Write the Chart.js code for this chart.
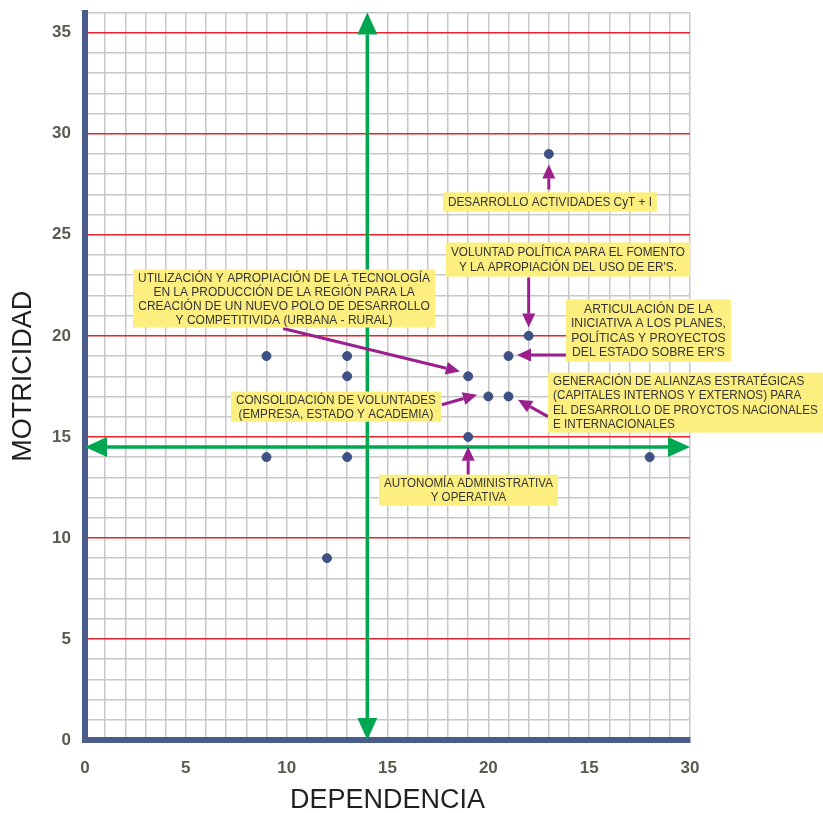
<!DOCTYPE html>
<html>
<head>
<meta charset="utf-8">
<script src="https://cdn.jsdelivr.net/npm/chart.js@4.4.1/dist/chart.umd.min.js"></script>
<style>
html,body{margin:0;padding:0;background:#fff;}
#wrap{width:823px;height:813px;position:relative;}
</style>
</head>
<body>
<div id="wrap"><canvas id="c"></canvas></div>
<script>
// ---- data ----
const xValues = [9, 13, 13, 19, 20, 21, 21, 22, 23, 19, 9, 13, 12, 28];
const yValues = [19, 19, 18, 18, 17, 17, 19, 20, 29, 15, 14, 14, 9, 14];
const xTickLabels = ['0', '5', '10', '15', '20', '15', '30'];
const yTickLabels = ['0', '5', '10', '15', '20', '25', '30', '35'];
const xTitle = 'DEPENDENCIA';
const yTitle = 'MOTRICIDAD';
const dividerX = 14;
const dividerY = 14.5;

const annotationTexts = [
  ['DESARROLLO ACTIVIDADES CyT + I'],
  ['VOLUNTAD POLÍTICA PARA EL FOMENTO', "Y LA APROPIACIÓN DEL USO DE ER'S."],
  ['ARTICULACIÓN DE LA', 'INICIATIVA A LOS PLANES,', 'POLÍTICAS Y PROYECTOS', "DEL ESTADO SOBRE ER'S"],
  ['GENERACIÓN DE ALIANZAS ESTRATÉGICAS', '(CAPITALES INTERNOS Y EXTERNOS) PARA', 'EL DESARROLLO DE PROYCTOS NACIONALES', 'E INTERNACIONALES'],
  ['UTILIZACIÓN Y APROPIACIÓN DE LA TECNOLOGÍA', 'EN LA PRODUCCIÓN DE LA REGIÓN PARA LA', 'CREACIÓN DE UN NUEVO POLO DE DESARROLLO', 'Y COMPETITIVIDA (URBANA - RURAL)'],
  ['CONSOLIDACIÓN DE VOLUNTADES', '(EMPRESA, ESTADO Y ACADEMIA)'],
  ['AUTONOMÍA ADMINISTRATIVA', 'Y OPERATIVA']
];
// layout of callouts, in axis units: box [x1, yTop, x2, yBottom], arrow [fromX, fromY, toX, toY]
const annotationLayout = [
  {box: [17.75, 27.10, 28.36, 26.15], align: 'center', arrow: [23, 27.24, 23, 28.48]},
  {box: [17.90, 24.62, 30.0, 22.93], align: 'center', arrow: [22, 22.88, 22, 20.41]},
  {box: [23.85, 21.80, 32.03, 18.72], align: 'center', arrow: [23.90, 19.05, 21.42, 19.05]},
  {box: [22.96, 18.18, 36.59, 15.21], align: 'left', arrow: [22.96, 16.0, 21.47, 16.84]},
  {box: [2.38, 23.28, 17.36, 20.41], align: 'center', arrow: [9.82, 20.36, 18.59, 18.23]},
  {box: [7.24, 17.24, 17.65, 15.75], align: 'center', arrow: [17.70, 16.59, 19.44, 17.09]},
  {box: [14.58, 13.13, 23.45, 11.59], align: 'center', arrow: [19, 13.13, 19, 14.51]}
];

const GREEN = '#00a650';
const PURPLE = '#9b1f8c';
const YELLOW = '#fcef80';
const AXIS_BLUE = '#4a5d8a';
const POINT_BLUE = '#3e5185';
const GRID_GRAY = '#c8c8c8';
const RED = '#e5242b';

function drawArrow(ctx, x1, y1, x2, y2, color, lw, L, W) {
  const ang = Math.atan2(y2 - y1, x2 - x1);
  const bx = x2 - L * Math.cos(ang), by = y2 - L * Math.sin(ang);
  ctx.save();
  ctx.strokeStyle = color; ctx.fillStyle = color; ctx.lineWidth = lw; ctx.lineCap = 'butt';
  ctx.beginPath(); ctx.moveTo(x1, y1); ctx.lineTo(bx, by); ctx.stroke();
  ctx.beginPath();
  ctx.moveTo(x2, y2);
  ctx.lineTo(bx + W * Math.sin(ang), by - W * Math.cos(ang));
  ctx.lineTo(bx - W * Math.sin(ang), by + W * Math.cos(ang));
  ctx.closePath(); ctx.fill();
  ctx.restore();
}
function drawDoubleArrow(ctx, x1, y1, x2, y2, color, lw, L, W) {
  const mx = (x1 + x2) / 2, my = (y1 + y2) / 2;
  drawArrow(ctx, mx, my, x1, y1, color, lw, L, W);
  drawArrow(ctx, mx, my, x2, y2, color, lw, L, W);
}

const overlayPlugin = {
  id: 'overlay',
  beforeDatasetsDraw(chart) {
    const {ctx, scales: {x, y}} = chart;
    drawDoubleArrow(ctx, x.getPixelForValue(dividerX), y.getPixelForValue(0),
      x.getPixelForValue(dividerX), y.getPixelForValue(36), GREEN, 3.5, 22, 10);
    drawDoubleArrow(ctx, x.getPixelForValue(0), y.getPixelForValue(dividerY),
      x.getPixelForValue(30), y.getPixelForValue(dividerY), GREEN, 3.5, 22, 10);
  },
  afterDatasetsDraw(chart) {
    const {ctx, scales: {x, y}} = chart;
    annotationLayout.forEach((a, i) => {
      const [fx, fy, tx, ty] = a.arrow;
      drawArrow(ctx, x.getPixelForValue(fx), y.getPixelForValue(fy),
        x.getPixelForValue(tx), y.getPixelForValue(ty), PURPLE, 3, 14, 6.5);
    });
    annotationLayout.forEach((a, i) => {
      const lines = annotationTexts[i];
      const bx1 = x.getPixelForValue(a.box[0]), by1 = y.getPixelForValue(a.box[1]);
      const bx2 = x.getPixelForValue(a.box[2]), by2 = y.getPixelForValue(a.box[3]);
      const w = bx2 - bx1, h = by2 - by1;
      ctx.save();
      ctx.fillStyle = YELLOW;
      ctx.fillRect(bx1, by1, w, h);
      ctx.font = '12.5px "Liberation Sans", Arial, sans-serif';
      ctx.fillStyle = '#333333';
      ctx.textBaseline = 'middle';
      const padX = 5;
      let maxW = 0;
      lines.forEach(l => { maxW = Math.max(maxW, ctx.measureText(l).width); });
      const sx = Math.min(1, (w - 2 * padX) / maxW);
      const lh = Math.min(14.6, (h - 2) / lines.length);
      const cy = by1 + h / 2 + 0.5;
      lines.forEach((l, k) => {
        const ly = cy + (k - (lines.length - 1) / 2) * lh;
        ctx.save();
        if (a.align === 'left') {
          ctx.translate(bx1 + padX, ly);
          ctx.scale(sx, 1);
          ctx.textAlign = 'left';
        } else {
          ctx.translate(bx1 + w / 2, ly);
          ctx.scale(sx, 1);
          ctx.textAlign = 'center';
        }
        ctx.fillText(l, 0, 0);
        ctx.restore();
      });
      ctx.restore();
    });
  }
};

const tickFont = {family: '"Liberation Sans", Arial, sans-serif', size: 17, weight: 'bold'};
const titleFont = {family: '"Liberation Sans", Arial, sans-serif', size: 27, weight: 'normal', lineHeight: 1};

new Chart(document.getElementById('c'), {
  type: 'scatter',
  data: {
    datasets: [{
      data: xValues.map((v, i) => ({x: v, y: yValues[i]})),
      backgroundColor: POINT_BLUE,
      borderColor: POINT_BLUE,
      pointRadius: 4.5,
      pointHoverRadius: 4.5
    }]
  },
  options: {
    responsive: true,
    maintainAspectRatio: false,
    animation: false,
    events: [],
    layout: {padding: {left: 0, right: 133, top: 12.5, bottom: 0}},
    plugins: {legend: {display: false}, tooltip: {enabled: false}},
    scales: {
      x: {
        type: 'linear', min: 0, max: 30,
        afterFit(s) { s.height = 73; s.paddingLeft = 0; s.paddingRight = 0; },
        border: {display: true, color: AXIS_BLUE, width: 6},
        grid: {color: GRID_GRAY, lineWidth: 1.5, drawTicks: false},
        ticks: {
          stepSize: 1, autoSkip: false, maxRotation: 0, padding: 18,
          color: '#5a5a4e', font: tickFont,
          callback: v => (v % 5 === 0 ? xTickLabels[v / 5] : '')
        },
        title: {display: true, text: xTitle, color: '#231f20', font: titleFont, padding: {top: 0, bottom: -1}}
      },
      y: {
        type: 'linear', min: 0, max: 36,
        afterFit(s) { s.width = 85; s.paddingTop = 0; s.paddingBottom = 0; },
        border: {display: true, color: AXIS_BLUE, width: 6},
        grid: {
          drawTicks: false,
          color: c => (c.tick && c.tick.value % 5 === 0 && c.tick.value > 0 ? RED : GRID_GRAY),
          lineWidth: 1.5
        },
        ticks: {
          stepSize: 1, autoSkip: false, padding: 14,
          color: '#5a5a4e', font: tickFont,
          callback: v => (v % 5 === 0 ? yTickLabels[v / 5] : '')
        },
        title: {display: true, text: yTitle, color: '#231f20', font: titleFont, padding: {top: 10, bottom: 0}}
      }
    }
  },
  plugins: [overlayPlugin]
});
</script>
</body>
</html>
